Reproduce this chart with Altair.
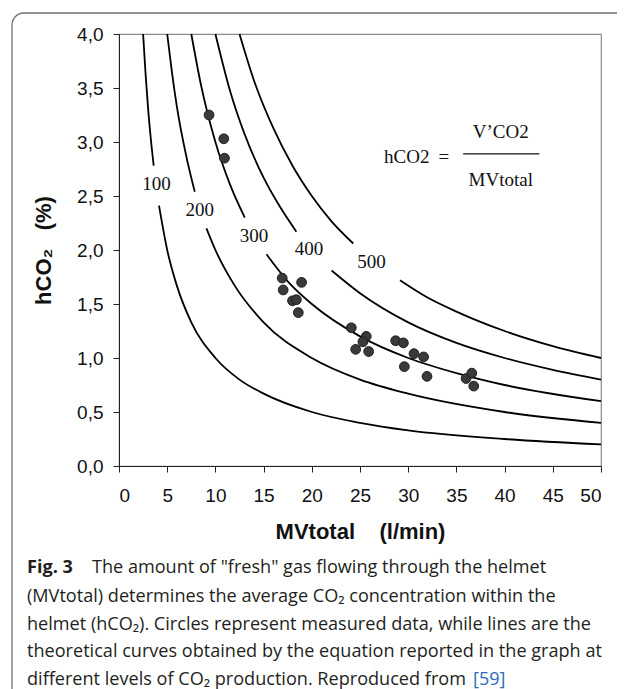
import altair as alt
import pandas as pd

# ---- theoretical curves (V'CO2 levels, ml/min) ----
curve_levels = ["100", "200", "300", "400", "500"]
c100_mv_a = [2.5, 2.75, 3.0, 3.3, 3.6]
c100_h_a = [4.0, 3.64, 3.33, 3.03, 2.78]
c100_mv_b = [4.15, 5, 6, 7.5, 10, 12.5, 15, 20, 25, 30, 40, 50]
c100_h_b = [2.41, 2.0, 1.67, 1.33, 1.0, 0.8, 0.67, 0.5, 0.4, 0.33, 0.25, 0.2]
c200_mv_a = [5, 5.5, 6, 7, 7.86]
c200_h_a = [4.0, 3.64, 3.33, 2.86, 2.54]
c200_mv_b = [9.07, 10, 12, 15, 20, 25, 30, 40, 50]
c200_h_b = [2.2, 2.0, 1.67, 1.33, 1.0, 0.8, 0.67, 0.5, 0.4]
c300_mv_a = [7.5, 8.5, 10, 11.5, 13.05]
c300_h_a = [4.0, 3.53, 3.0, 2.61, 2.3]
c300_mv_b = [15.3, 17.5, 20, 25, 30, 35, 40, 50]
c300_h_b = [1.96, 1.71, 1.5, 1.2, 1.0, 0.86, 0.75, 0.6]
c400_mv_a = [10, 11.5, 13, 15, 16.7, 18.4]
c400_h_a = [4.0, 3.48, 3.08, 2.67, 2.4, 2.17]
c400_mv_b = [22.05, 25, 30, 35, 40, 45, 50]
c400_h_b = [1.81, 1.6, 1.33, 1.14, 1.0, 0.89, 0.8]
c500_mv_a = [12.5, 14, 16, 18, 20, 22, 24.3]
c500_h_a = [4.0, 3.57, 3.13, 2.78, 2.5, 2.27, 2.06]
c500_mv_b = [29.15, 32, 35, 40, 45, 50]
c500_h_b = [1.72, 1.56, 1.43, 1.25, 1.11, 1.0]

# curve label positions
label_text = ["100", "200", "300", "400", "500"]
label_mv = [3.88, 8.38, 14.0, 19.7, 26.2]
label_h = [2.61, 2.37, 2.13, 2.01, 1.89]

# ---- measured data ----
meas_mv = [9.34, 10.87, 10.94, 16.93, 17.03, 18.94, 18.0, 18.4, 18.6,
           24.1, 25.65, 25.3, 24.55, 25.9, 28.7, 29.5, 30.6, 31.6, 29.6,
           31.95, 36.0, 36.6, 36.8]
meas_h = [3.25, 3.03, 2.85, 1.74, 1.63, 1.70, 1.53, 1.54, 1.42,
          1.28, 1.20, 1.15, 1.08, 1.06, 1.16, 1.14, 1.04, 1.01, 0.92,
          0.83, 0.81, 0.86, 0.74]

x_ticks = [0, 5, 10, 15, 20, 25, 30, 35, 40, 45, 50]
y_ticks = [0, 0.5, 1.0, 1.5, 2.0, 2.5, 3.0, 3.5, 4.0]

# equation text
eq_text = ["hCO2", "=", "V\u2019CO2", "MVtotal"]
eq_mv = [29.85, 33.7, 39.6, 39.6]
eq_h = [2.86, 2.86, 3.09, 2.65]
frac_mv = [35.7, 43.6]
frac_h = [2.89, 2.89]

caption_lines = [
    "The amount of \"fresh\" gas flowing through the helmet",
    "(MVtotal) determines the average CO\u2082 concentration within the",
    "helmet (hCO\u2082). Circles represent measured data, while lines are the",
    "theoretical curves obtained by the equation reported in the graph at",
    "different levels of CO\u2082 production. Reproduced from ",
]

# ---- build tables ----
rows = []
segs = {
    "100": [(c100_mv_a, c100_h_a), (c100_mv_b, c100_h_b)],
    "200": [(c200_mv_a, c200_h_a), (c200_mv_b, c200_h_b)],
    "300": [(c300_mv_a, c300_h_a), (c300_mv_b, c300_h_b)],
    "400": [(c400_mv_a, c400_h_a), (c400_mv_b, c400_h_b)],
    "500": [(c500_mv_a, c500_h_a), (c500_mv_b, c500_h_b)],
}
for lvl in curve_levels:
    for si, (mvs, hs) in enumerate(segs[lvl]):
        for i, (m, h) in enumerate(zip(mvs, hs)):
            rows.append({"seg": f"{lvl}-{si}", "mv": m, "h": h, "o": i})
curves = pd.DataFrame(rows)
labels = pd.DataFrame({"t": label_text, "mv": label_mv, "h": label_h})
meas = pd.DataFrame({"mv": meas_mv, "h": meas_h})
eq = pd.DataFrame({"t": eq_text, "mv": eq_mv, "h": eq_h})
frac = pd.DataFrame({"mv": frac_mv, "h": frac_h})

PL, PT = 111, 26   # plot origin inside the svg
OX, OY = 8 + PL, 8 + PT  # page coords of plot origin

xs = alt.Scale(domain=[0, 50], nice=False)
ys = alt.Scale(domain=[0, 4], nice=False)

X = alt.X("mv:Q", scale=xs, axis=alt.Axis(
    values=x_ticks, title="MVtotal\u00a0\u00a0\u00a0\u00a0(l/min)", grid=False,
    labelFontSize=19, titleFontSize=22, titleFontWeight="bold",
    tickSize=6, labelPadding=14, titlePadding=16, domainColor="#222",
    tickColor="#222", labelColor="#111", titleColor="#111"))
Y = alt.Y("h:Q", scale=ys, axis=alt.Axis(
    values=y_ticks, title="hCO\u2082\u00a0\u00a0\u00a0(%)", grid=False,
    labelExpr="replace(format(datum.value,'.1f'),'.',',')",
    labelFontSize=19, titleFontSize=22, titleFontWeight="bold",
    tickSize=6, labelPadding=10, titlePadding=21, domainColor="#222",
    tickColor="#222", labelColor="#111", titleColor="#111"))

lines = alt.Chart(curves).mark_line(color="black", strokeWidth=1.8,
                                    interpolate="monotone").encode(
    x=X, y=Y, detail="seg:N", order="o:Q")

pts = alt.Chart(meas).mark_point(filled=True, fill="#3a3a3a", stroke="#1e1e1e",
                                 strokeWidth=1, size=95, opacity=1,
                                 shape="circle").encode(x="mv:Q", y="h:Q")

lbl = alt.Chart(labels).mark_text(font="Liberation Serif", fontSize=19,
                                  color="#111").encode(
    x="mv:Q", y="h:Q", text="t:N")

eqt = alt.Chart(eq).mark_text(font="Liberation Serif", fontSize=19,
                              color="#111").encode(x="mv:Q", y="h:Q", text="t:N")
fr = alt.Chart(frac).mark_line(color="#111", strokeWidth=1.3).encode(x="mv:Q", y="h:Q")

# frame box
box = alt.Chart(pd.DataFrame({"a": [0]})).mark_rect(
    fillOpacity=0, stroke="#707070", strokeWidth=1.3, cornerRadius=12).encode(
    x=alt.value(12 - OX), y=alt.value(13 - OY),
    x2=alt.value(900), y2=alt.value(900))

CAP_FS = 18.1
cap_y = [568, 597, 625, 652, 680]
cap = pd.DataFrame({
    "t": caption_lines,
    "x": [92 - OX] + [27 - OX] * 4,
    "y": [v - OY for v in cap_y],
})
capt = alt.Chart(cap).mark_text(font="Open Sans", fontSize=CAP_FS, align="left",
                                baseline="middle", color="#231f20").encode(
    x=alt.X("x:Q", scale=None), y=alt.Y("y:Q", scale=None), text="t:N")
fig = alt.Chart(pd.DataFrame({"t": ["Fig. 3"], "x": [27 - OX], "y": [568 - OY]})).mark_text(
    font="Open Sans", fontSize=CAP_FS, fontWeight="bold", align="left",
    baseline="middle", color="#231f20").encode(
    x=alt.X("x:Q", scale=None), y=alt.Y("y:Q", scale=None), text="t:N")
ref = alt.Chart(pd.DataFrame({"t": ["[59]"], "x": [473 - OX], "y": [680 - OY]})).mark_text(
    font="Open Sans", fontSize=CAP_FS, align="left",
    baseline="middle", color="#2a6ebb").encode(
    x=alt.X("x:Q", scale=None), y=alt.Y("y:Q", scale=None), text="t:N")

chart = alt.layer(box, lines, fr, eqt, lbl, pts, capt, fig, ref).properties(
    width=482, height=432,
    autosize=alt.AutoSizeParams(type="none"),
    padding={"left": PL, "top": PT, "right": 16, "bottom": 681 - PT - 432},
).configure_view(stroke="#8a8a8a", strokeWidth=1.2).configure_axis(
    labelFont="Liberation Sans", titleFont="Liberation Sans")

chart.save("out.html", embed_options={"renderer": "svg", "actions": False})
